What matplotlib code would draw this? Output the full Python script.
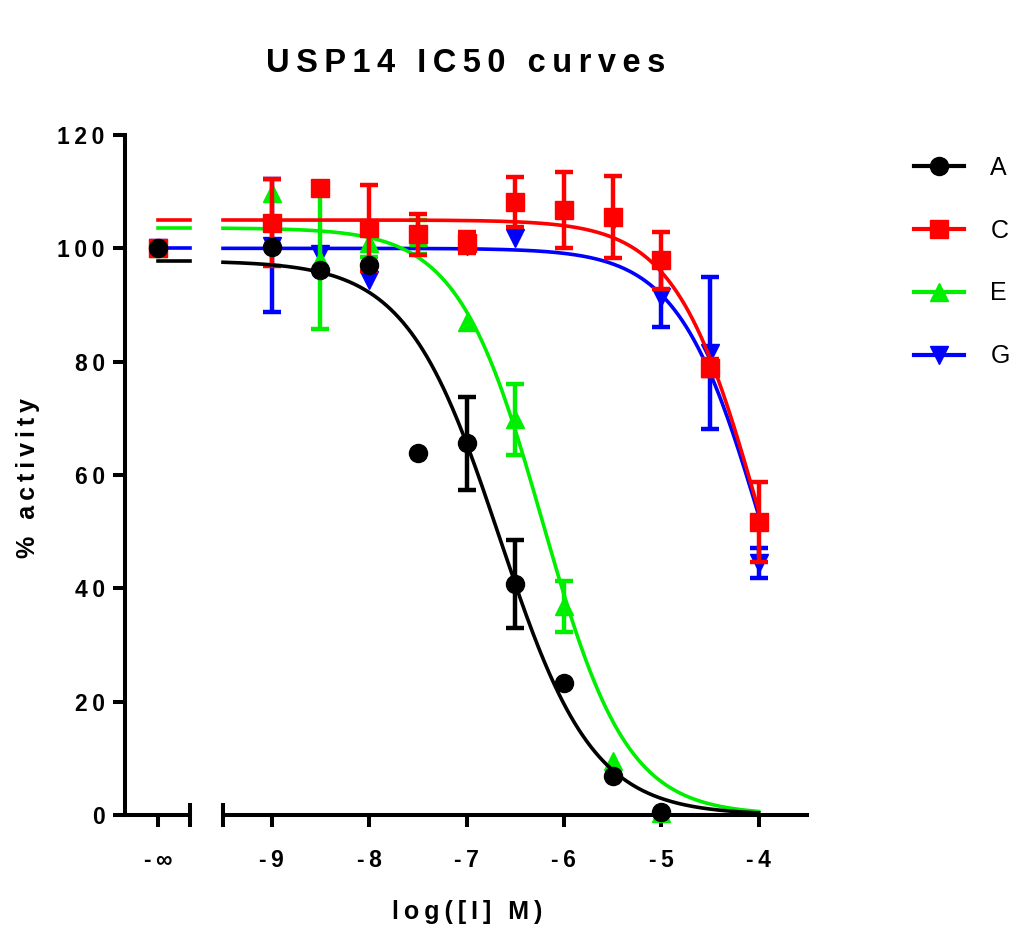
import numpy as np
import matplotlib
matplotlib.use('Agg')
import matplotlib.pyplot as plt
from matplotlib.lines import Line2D

plt.rcParams['font.family'] = ['Liberation Sans', 'DejaVu Sans']

# log concentrations of the measured points
log_conc = [-9, -8.5, -8, -7.5, -7, -6.5, -6, -5.5, -5, -4.5, -4]
names = ['A', 'C', 'E', 'G']
colors = ['black', 'red', '#00ee00', 'blue']
markers = ['o', 's', '^', 'v']

# % activity with no inhibitor (the "-inf" point)
zero_vals = [100, 100, 100, 100]

a_vals = [100.3, 96.2, 97.0, 63.9, 65.6, 40.8, 23.3, 6.9, 0.5]
a_err = [0, 0, 0, 0, 8.2, 7.8, 0, 0, 0]
c_vals = [104.5, 110.6, 103.6, 102.5, 101.0, 108.2, 106.8, 105.5, 97.9, 78.9, 51.7]
c_err = [7.7, 0, 7.6, 3.6, 1.8, 4.4, 6.7, 7.2, 5.0, 1.5, 7.1]
e_vals = [109.8, 98.0, 101.0, 102.0, 87.0, 69.8, 36.8, 9.5, 0.3]
e_err = [0, 12.2, 2.5, 3.0, 0, 6.3, 4.5, 0, 0]
g_vals = [100.5, 99.0, 94.4, 101.5, 100.5, 101.8, 106.5, 104.8, 91.4, 81.5, 44.5]
g_err = [11.7, 0, 0, 0, 0, 0, 0, 0, 5.3, 13.4, 2.6]

# fitted 4PL parameters: top, bottom, logIC50, hill slope
fit_top = [97.8, 105.0, 103.6, 100.0]
fit_bottom = [0, 0, 0, 0]
fit_logic50 = [-6.66, -3.98, -6.22, -3.95]
fit_hill = [0.91, 1.0, 1.0, 1.0]

y_ticks = [0, 20, 40, 60, 80, 100, 120]
x_ticks = [-9, -8, -7, -6, -5, -4]


def sp(s):
    # Prism style letter spacing
    return '\u2009'.join(s)


vals = [a_vals, c_vals, e_vals, g_vals]
errs = [a_err, c_err, e_err, g_err]
zord = [6, 5, 4, 3]

fig = plt.figure(figsize=(10.24, 9.31), dpi=100)
px = 97.4  # pixels per decade
W, H = 1024, 931
ax_l = fig.add_axes([125 / W, 116 / H, 65 / W, 680 / H])
ax_r = fig.add_axes([223 / W, 116 / H, 6 * px / W, 680 / H])

lw_ax = 2.9
for ax in (ax_l, ax_r):
    ax.set_ylim(0, 120)
    ax.patch.set_alpha(0)
    for s in ['top', 'right']:
        ax.spines[s].set_visible(False)
    for s in ['left', 'bottom']:
        ax.spines[s].set_linewidth(lw_ax)
    ax.tick_params(width=lw_ax, length=8.6, labelsize=16.5, direction='out')

xl0, xl1 = -33 / px, 32 / px
ax_l.set_xlim(xl0, xl1)
ax_l.set_xticks([0])
ax_l.set_xticklabels([sp('-∞')], fontweight='bold')
ax_l.set_yticks(y_ticks)
ax_l.set_yticklabels([sp(str(t)) for t in y_ticks], fontweight='bold')
ax_l.tick_params(axis='x', pad=16)
ax_l.tick_params(axis='y', pad=6)

ax_r.set_xlim(-9.5, -3.5)
ax_r.spines['left'].set_visible(False)
ax_r.set_yticks([])
ax_r.set_xticks(x_ticks)
ax_r.set_xticklabels([sp(str(t)) for t in x_ticks], fontweight='bold')
ax_r.tick_params(axis='x', pad=16)

# break marks
ax_l.plot([xl1], [0], marker='|', ms=17, mew=lw_ax, color='black', clip_on=False, zorder=10)
ax_r.plot([-9.5], [0], marker='|', ms=17, mew=lw_ax, color='black', clip_on=False, zorder=10)

xs = np.linspace(-9.5, -4, 400)
for i in range(4):
    col = colors[i]
    top, bot, c, h = fit_top[i], fit_bottom[i], fit_logic50[i], fit_hill[i]
    ys = bot + (top - bot) / (1 + 10 ** ((xs - c) * h))
    ax_r.plot(xs, ys, color=col, lw=2.6, zorder=zord[i], clip_on=False)
    ax_l.plot([0, xl1], [top, top], color=col, lw=2.6, zorder=zord[i], clip_on=False)

    x = np.array(log_conc[:len(vals[i])])
    y = np.array(vals[i])
    e = np.array(errs[i])
    m = e > 0
    ax_r.errorbar(x[m], y[m], yerr=e[m], fmt='none', ecolor=col, elinewidth=3.2,
                  capsize=6.8, capthick=3.2, zorder=zord[i], clip_on=False)
    ax_r.plot(x, y, ls='none', marker=markers[i], ms=13, color=col,
              zorder=zord[i] + 0.5, clip_on=False)
    ax_l.plot([0], [zero_vals[i]], ls='none', marker=markers[i], ms=13, color=col,
              zorder=zord[i] + 0.5, clip_on=False)

fig.text(466 / W, 1 - 64 / H, sp('USP14 IC50 curves'), ha='center', va='center',
         fontsize=23.5, fontweight='bold')
fig.text(467 / W, 1 - 912 / H, sp('log([I] M)'), ha='center', va='center',
         fontsize=18, fontweight='bold')
fig.text(28 / W, 1 - 478 / H, sp('% activity'), ha='center', va='center',
         rotation=90, fontsize=18, fontweight='bold')

handles = [Line2D([], [], color=colors[i], lw=3, marker=markers[i], ms=13)
           for i in range(4)]
fig.legend(handles, names, loc='upper left', bbox_to_anchor=(914 / W, 1 - 156 / H),
           frameon=False, fontsize=18, handlelength=2.0, handletextpad=1.05,
           labelspacing=1.55, borderpad=0, borderaxespad=0)

fig.savefig('out.png', dpi=100)
